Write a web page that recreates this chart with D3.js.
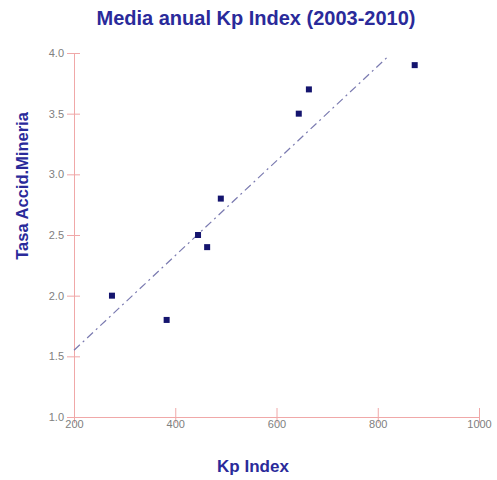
<!DOCTYPE html>
<html><head><meta charset="utf-8">
<script src="https://cdn.jsdelivr.net/npm/d3@7"></script>
<style>body{margin:0;background:#fff;} svg{display:block;}</style>
</head><body>
<script>
const kp = [275, 383, 445, 463, 490, 644, 664, 873];
const tasa = [2.0, 1.8, 2.5, 2.4, 2.8, 3.5, 3.7, 3.9];
const trendX = [200, 820];
const trendY = [1.55, 3.97];
const xTicks = [200, 400, 600, 800, 1000];
const yTicks = [1.0, 1.5, 2.0, 2.5, 3.0, 3.5, 4.0];

const W = 497, H = 480;
const svg = d3.select("body").append("svg").attr("width", W).attr("height", H);
const x = d3.scaleLinear().domain([200, 1000]).range([74, 479]);
const y = d3.scaleLinear().domain([1, 4]).range([417, 53]);
const axisCol = "#f0a8a8", txtCol = "#808080", titleCol = "#2a2a9a";

const xa = svg.append("g").attr("transform", `translate(0,${y(1)})`)
  .call(d3.axisBottom(x).tickValues(xTicks).tickFormat(d3.format("d")).tickSizeInner(6).tickSizeOuter(0).tickPadding(-3));
xa.selectAll(".tick line").attr("y1", -9);
const ya = svg.append("g").attr("transform", `translate(${x(200)},0)`)
  .call(d3.axisLeft(y).tickValues(yTicks).tickFormat(d3.format(".1f")).tickSizeInner(7).tickSizeOuter(0).tickPadding(3));
ya.selectAll(".tick line").attr("x1", 6);
[xa, ya].forEach(g => {
  g.select(".domain").attr("stroke", axisCol);
  g.selectAll(".tick line").attr("stroke", axisCol);
  g.selectAll(".tick text").attr("fill", txtCol).attr("font-family", "Liberation Sans, Arial, sans-serif").attr("font-size", 11);
});

svg.append("line")
  .attr("x1", x(trendX[0])).attr("y1", y(trendY[0]))
  .attr("x2", x(trendX[1])).attr("y2", y(trendY[1]))
  .attr("stroke", "#7a7ab0").attr("stroke-width", 1.2)
  .attr("stroke-dasharray", "8,4,2,4");

svg.append("g").selectAll("rect").data(kp).join("rect")
  .attr("x", (d) => x(d) - 3).attr("y", (d, i) => y(tasa[i]) - 3)
  .attr("width", 6).attr("height", 6).attr("fill", "#14146e");

const font = "Liberation Sans, Arial, sans-serif";
svg.append("text").attr("x", 256).attr("y", 25).attr("text-anchor", "middle")
  .attr("font-family", font).attr("font-weight", "bold").attr("font-size", 20)
  .attr("fill", titleCol).text("Media anual Kp Index (2003-2010)");
svg.append("text").attr("x", 253).attr("y", 472).attr("text-anchor", "middle")
  .attr("font-family", font).attr("font-weight", "bold").attr("font-size", 17)
  .attr("fill", titleCol).text("Kp Index");
svg.append("text").attr("transform", "translate(28,186) rotate(-90)").attr("text-anchor", "middle")
  .attr("font-family", font).attr("font-weight", "bold").attr("font-size", 16.5)
  .attr("fill", titleCol).text("Tasa Accid.Mineria");
</script>
</body></html>
